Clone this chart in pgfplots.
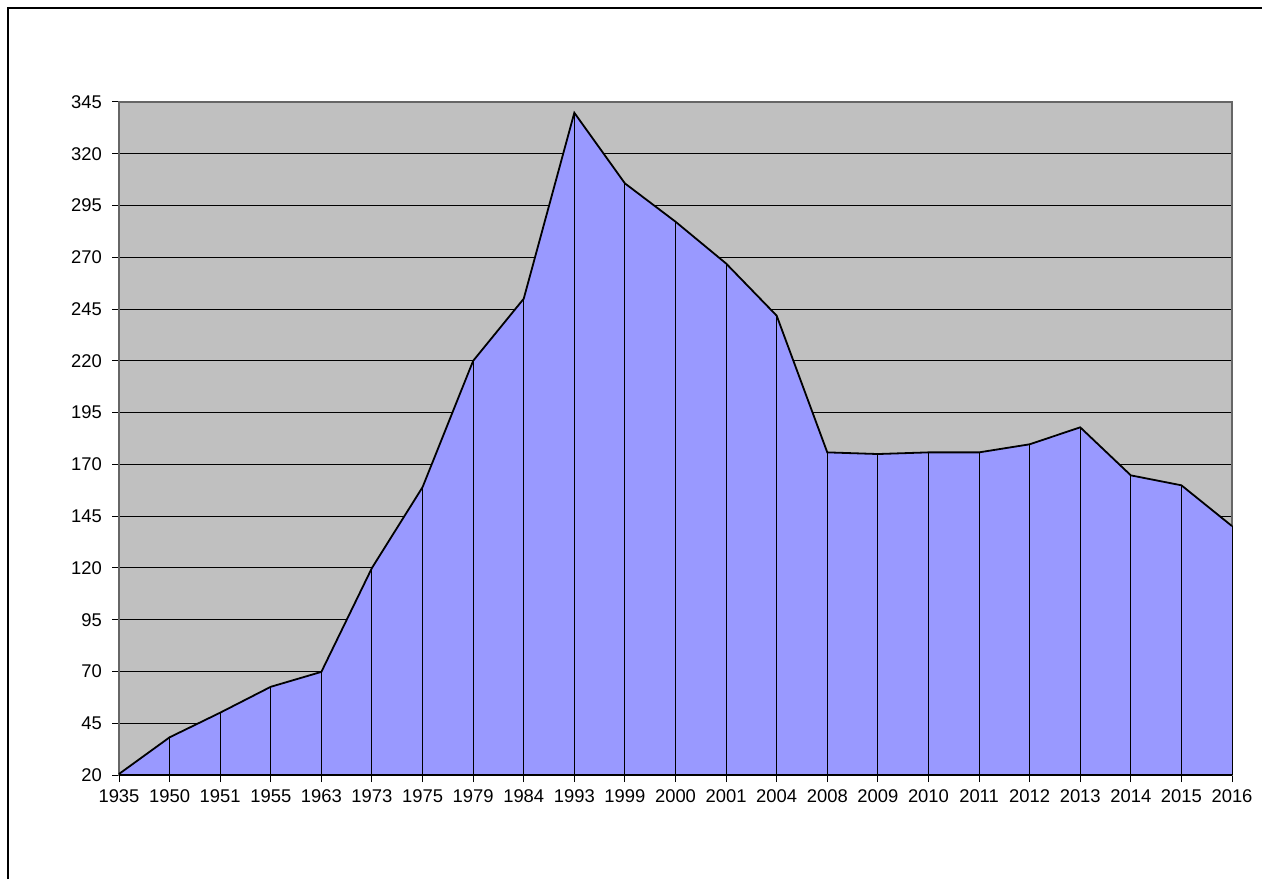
\documentclass[border=0pt]{standalone}
\usepackage{pgfplots}
\pgfplotsset{compat=1.18}
\usepackage{fontspec}
\setmainfont{Liberation Sans}
\definecolor{bgray}{HTML}{C0C0C0}
\definecolor{areablue}{HTML}{9999FF}
\pgfplotstableread{
x y
0 20.5
1 38.2
2 50.1
3 62.6
4 69.8
5 120
6 159
7 220
8 250
9 339.8
10 305.7
11 287.2
12 267
13 241.8
14 175.8
15 175
16 175.8
17 175.8
18 179.7
19 187.9
20 164.7
21 159.9
22 140.2
}\datatable
\begin{document}
\begin{tikzpicture}
\path[use as bounding box] (0,0) rectangle (631pt,439.5pt);
\draw[line width=0.9pt] (4pt,0) -- (4pt,435.5pt) -- (631pt,435.5pt);
\begin{axis}[
  at={(59.5pt,52pt)}, anchor=south west,
  scale only axis, width=556.5pt, height=336.5pt,
  xmin=0, xmax=22, ymin=20, ymax=345,
  xtick={0,...,22},
  xticklabels={1935,1950,1951,1955,1963,1973,1975,1979,1984,1993,1999,2000,2001,2004,2008,2009,2010,2011,2012,2013,2014,2015,2016},
  ytick={20,45,...,345},
  ymajorgrids, major grid style={black, line width=0.5pt},
  axis background/.style={fill=bgray},
  axis line style={draw=gray!80!black, line width=0.6pt},
  tick align=outside, major tick length=3.5pt,
  tick style={black, line width=0.5pt},
  xtick pos=bottom, ytick pos=left,
  tick label style={font=\fontsize{9.2}{11}\selectfont},
  /pgf/number format/assume math mode=true,
  yticklabel style={xshift=-1.5pt},
  xticklabel style={yshift=-0.5pt},
  clip=false,
]
\addplot[fill=areablue, draw=none] table {\datatable} \closedcycle;
\addplot[ycomb, black, line width=0.5pt, mark=none] table {\datatable};
\addplot[black, line width=0.9pt, mark=none] table {\datatable};
\draw[black, line width=1pt] (axis cs:0,20) -- (axis cs:22,20);
\end{axis}
\end{tikzpicture}
\end{document}
